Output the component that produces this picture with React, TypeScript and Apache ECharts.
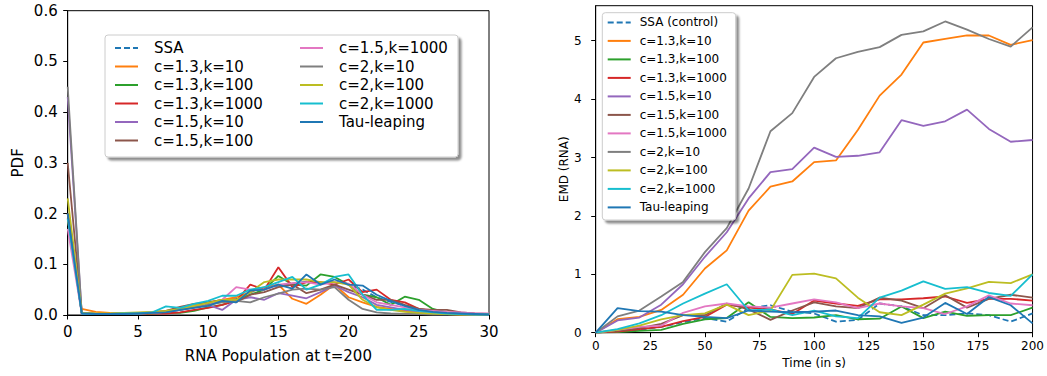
import React, { useEffect, useRef } from "react";
import * as echarts from "echarts";

const FONT = "DejaVu Sans";

// ---------- Left plot: PDF of RNA population at t=200 ----------
const rnaX = Array.from({ length: 31 }, (_, i) => i);
const pdfSSA = [0.20, 0.003, 0.002, 0.002, 0.003, 0.003, 0.004, 0.006, 0.01, 0.016, 0.022, 0.028, 0.032, 0.045, 0.052, 0.058, 0.062, 0.066, 0.062, 0.066, 0.06, 0.05, 0.035, 0.026, 0.018, 0.01, 0.007, 0.004, 0.002, 0.001, 0.001];
const pdfC13K10 = [0.19, 0.012, 0.006, 0.004, 0.003, 0.004, 0.005, 0.008, 0.012, 0.018, 0.025, 0.03, 0.035, 0.045, 0.055, 0.06, 0.032, 0.022, 0.04, 0.06, 0.035, 0.025, 0.016, 0.012, 0.008, 0.004, 0.003, 0.002, 0.001, 0.001, 0.001];
const pdfC13K100 = [0.2, 0.004, 0.002, 0.002, 0.003, 0.003, 0.003, 0.004, 0.004, 0.008, 0.015, 0.02, 0.03, 0.04, 0.05, 0.077, 0.06, 0.058, 0.08, 0.075, 0.06, 0.04, 0.035, 0.02, 0.036, 0.03, 0.012, 0.005, 0.003, 0.002, 0.001];
const pdfC13K1000 = [0.2, 0.004, 0.002, 0.002, 0.002, 0.003, 0.003, 0.003, 0.005, 0.01, 0.014, 0.02, 0.028, 0.06, 0.05, 0.094, 0.055, 0.065, 0.065, 0.06, 0.07, 0.045, 0.05, 0.03, 0.025, 0.012, 0.008, 0.004, 0.002, 0.001, 0.001];
const pdfC15K10 = [0.43, 0.003, 0.002, 0.002, 0.002, 0.003, 0.004, 0.006, 0.01, 0.015, 0.02, 0.01, 0.03, 0.035, 0.03, 0.043, 0.038, 0.033, 0.045, 0.058, 0.045, 0.035, 0.02, 0.015, 0.01, 0.006, 0.004, 0.003, 0.002, 0.001, 0.001];
const pdfC15K100 = [0.3, 0.003, 0.002, 0.002, 0.003, 0.003, 0.005, 0.008, 0.016, 0.022, 0.025, 0.03, 0.025, 0.04, 0.045, 0.055, 0.06, 0.043, 0.05, 0.06, 0.05, 0.04, 0.03, 0.03, 0.02, 0.012, 0.01, 0.01, 0.005, 0.003, 0.002];
const pdfC15K1000 = [0.17, 0.003, 0.002, 0.002, 0.003, 0.003, 0.004, 0.006, 0.01, 0.015, 0.02, 0.03, 0.055, 0.05, 0.05, 0.06, 0.063, 0.065, 0.06, 0.065, 0.062, 0.04, 0.025, 0.02, 0.015, 0.01, 0.008, 0.006, 0.005, 0.003, 0.003];
const pdfC2K10 = [0.45, 0.003, 0.002, 0.002, 0.002, 0.003, 0.004, 0.006, 0.01, 0.015, 0.02, 0.025, 0.028, 0.025, 0.035, 0.042, 0.05, 0.052, 0.05, 0.055, 0.03, 0.012, 0.005, 0.003, 0.002, 0.002, 0.001, 0.001, 0.001, 0.001, 0.001];
const pdfC2K100 = [0.23, 0.004, 0.003, 0.003, 0.004, 0.005, 0.006, 0.008, 0.012, 0.018, 0.024, 0.03, 0.03, 0.045, 0.065, 0.07, 0.07, 0.07, 0.065, 0.065, 0.06, 0.03, 0.015, 0.01, 0.006, 0.004, 0.003, 0.002, 0.001, 0.001, 0.001];
const pdfC2K1000 = [0.19, 0.003, 0.002, 0.002, 0.003, 0.003, 0.005, 0.017, 0.014, 0.022, 0.028, 0.038, 0.038, 0.05, 0.055, 0.065, 0.075, 0.05, 0.06, 0.075, 0.08, 0.04, 0.01, 0.01, 0.012, 0.008, 0.005, 0.003, 0.002, 0.001, 0.001];
const pdfTau = [0.2, 0.003, 0.002, 0.002, 0.002, 0.003, 0.004, 0.005, 0.01, 0.014, 0.018, 0.028, 0.025, 0.048, 0.05, 0.06, 0.052, 0.08, 0.06, 0.07, 0.06, 0.058, 0.04, 0.028, 0.018, 0.01, 0.006, 0.004, 0.003, 0.002, 0.001];

// ---------- Right plot: EMD over time ----------
const times = Array.from({ length: 21 }, (_, i) => i * 10);
const emdSSA = [0, 0.02, 0.05, 0.10, 0.18, 0.25, 0.19, 0.42, 0.47, 0.36, 0.33, 0.19, 0.22, 0.5, 0.45, 0.3, 0.3, 0.33, 0.3, 0.19, 0.33];
const emdC13K10 = [0, 0.23, 0.27, 0.39, 0.65, 1.1, 1.41, 2.09, 2.5, 2.59, 2.92, 2.95, 3.47, 4.06, 4.42, 4.97, 5.03, 5.09, 5.09, 4.93, 5.01];
const emdC13K100 = [0, 0.01, 0.03, 0.05, 0.15, 0.23, 0.25, 0.52, 0.27, 0.25, 0.26, 0.3, 0.23, 0.24, 0.45, 0.25, 0.36, 0.29, 0.3, 0.3, 0.43];
const emdC13K1000 = [0, 0.02, 0.06, 0.1, 0.2, 0.27, 0.48, 0.43, 0.4, 0.32, 0.55, 0.5, 0.46, 0.57, 0.57, 0.59, 0.62, 0.51, 0.58, 0.58, 0.55];
const emdC15K10 = [0, 0.21, 0.26, 0.48, 0.83, 1.3, 1.72, 2.3, 2.75, 2.8, 3.17, 3.01, 3.03, 3.09, 3.64, 3.54, 3.62, 3.82, 3.49, 3.27, 3.3];
const emdC15K100 = [0, 0.03, 0.08, 0.15, 0.3, 0.3, 0.5, 0.4, 0.22, 0.38, 0.52, 0.45, 0.42, 0.6, 0.55, 0.42, 0.64, 0.43, 0.58, 0.65, 0.6];
const emdC15K1000 = [0, 0.05, 0.1, 0.12, 0.34, 0.45, 0.5, 0.45, 0.43, 0.5, 0.57, 0.52, 0.42, 0.5, 0.45, 0.42, 0.32, 0.45, 0.64, 0.5, 0.47];
const emdC2K10 = [0, 0.28, 0.38, 0.62, 0.87, 1.38, 1.79, 2.47, 3.45, 3.76, 4.38, 4.7, 4.81, 4.89, 5.1, 5.16, 5.33, 5.19, 5.03, 4.9, 5.23];
const emdC2K100 = [0, 0.05, 0.12, 0.23, 0.3, 0.33, 0.48, 0.3, 0.38, 0.99, 1.01, 0.93, 0.6, 0.35, 0.3, 0.48, 0.67, 0.76, 0.87, 0.85, 1.0];
const emdC2K1000 = [0, 0.06, 0.16, 0.3, 0.5, 0.67, 0.83, 0.38, 0.4, 0.3, 0.38, 0.28, 0.25, 0.6, 0.72, 0.88, 0.75, 0.78, 0.68, 0.63, 1.0];
const emdTau = [0, 0.42, 0.37, 0.36, 0.3, 0.27, 0.25, 0.38, 0.36, 0.35, 0.36, 0.38, 0.3, 0.28, 0.17, 0.26, 0.51, 0.32, 0.61, 0.47, 0.16];

const NAMES = ["c=1.3,k=10", "c=1.3,k=100", "c=1.3,k=1000", "c=1.5,k=10", "c=1.5,k=100", "c=1.5,k=1000", "c=2,k=10", "c=2,k=100", "c=2,k=1000"];
const COLORS = ["#ff7f0e", "#2ca02c", "#d62728", "#9467bd", "#8c564b", "#e377c2", "#7f7f7f", "#bcbd22", "#17becf"];
const BLUE = "#1f77b4";

const leftData = [pdfC13K10, pdfC13K100, pdfC13K1000, pdfC15K10, pdfC15K100, pdfC15K1000, pdfC2K10, pdfC2K100, pdfC2K1000];
const rightData = [emdC13K10, emdC13K100, emdC13K1000, emdC15K10, emdC15K100, emdC15K1000, emdC2K10, emdC2K100, emdC2K1000];

function lineSeries(name: string, xs: number[], ys: number[], color: string, idx: number, dashed = false) {
  return {
    type: "line",
    name,
    xAxisIndex: idx,
    yAxisIndex: idx,
    data: xs.map((x, i) => [x, ys[i]]),
    showSymbol: false,
    symbol: "none",
    lineStyle: { color, width: 1.8, type: dashed ? [6, 3] : "solid" },
    itemStyle: { color },
    z: 2,
  };
}

export default function App() {
  const ref = useRef<HTMLDivElement>(null);
  useEffect(() => {
    if (!ref.current) return;
    const chart = echarts.init(ref.current, null, { renderer: "svg" });

    const axisCommon = (fs: number, margin: number) => ({
      axisLine: { show: true, onZero: false, lineStyle: { color: "#000", width: 1 } },
      axisTick: { show: true, inside: false, length: 4.5, lineStyle: { color: "#000", width: 1 } },
      axisLabel: { color: "#000", fontSize: fs, fontFamily: FONT, margin },
      splitLine: { show: false },
    });

    const series: any[] = [];
    series.push(lineSeries("SSA", rnaX, pdfSSA, BLUE, 0, true));
    NAMES.forEach((n, i) => series.push(lineSeries(n, rnaX, leftData[i], COLORS[i], 0)));
    series.push(lineSeries("Tau-leaping", rnaX, pdfTau, BLUE, 0));
    series.push(lineSeries("SSA (control)", times, emdSSA, BLUE, 1, true));
    NAMES.forEach((n, i) => series.push(lineSeries(n, times, rightData[i], COLORS[i], 1)));
    series.push(lineSeries("Tau-leaping", times, emdTau, BLUE, 1));

    const legendCommon = (fs: number) => ({
      orient: "vertical",
      itemWidth: 23,
      itemHeight: 10,
      itemGap: 0.5,
      selectedMode: false,
      padding: 0,
      itemStyle: { opacity: 0, borderWidth: 0 },
      lineStyle: { width: 2 },
      textStyle: { fontSize: fs, fontFamily: FONT, color: "#000", lineHeight: 18, padding: [0, 0, 0, fs === 15 ? 11 : 4] },
      z: 10,
    });

    const option: any = {
      animation: false,
      backgroundColor: "#fff",
      grid: [
        { left: 67.7, top: 10.7, width: 421.3, height: 304.3, show: true, borderColor: "#000", borderWidth: 1, backgroundColor: "transparent" },
        { left: 595.7, top: 5.7, width: 437.6, height: 327, show: true, borderColor: "#000", borderWidth: 1, backgroundColor: "transparent" },
      ],
      xAxis: [
        {
          type: "value", gridIndex: 0, min: 0, max: 30, interval: 5,
          name: "RNA Population at t=200", nameLocation: "middle", nameGap: 33,
          nameTextStyle: { fontSize: 15, fontFamily: FONT, color: "#000" },
          ...axisCommon(15, 9),
        },
        {
          type: "value", gridIndex: 1, min: 0, max: 200, interval: 25,
          name: "Time (in s)", nameLocation: "middle", nameGap: 24,
          nameTextStyle: { fontSize: 12, fontFamily: FONT, color: "#000" },
          ...axisCommon(12, 7),
        },
      ],
      yAxis: [
        {
          type: "value", gridIndex: 0, min: 0, max: 0.6, interval: 0.1,
          name: "PDF", nameLocation: "middle", nameGap: 42, nameRotate: 90,
          nameTextStyle: { fontSize: 15, fontFamily: FONT, color: "#000" },
          ...axisCommon(15, 10),
          axisLabel: { color: "#000", fontSize: 15, fontFamily: FONT, margin: 10, formatter: (v: number) => v.toFixed(1) },
        },
        {
          type: "value", gridIndex: 1, min: 0, max: 5.6, interval: 1,
          name: "EMD (RNA)", nameLocation: "middle", nameGap: 23, nameRotate: 90,
          nameTextStyle: { fontSize: 12, fontFamily: FONT, color: "#000" },
          ...axisCommon(12, 14),
          axisLabel: { color: "#000", fontSize: 12, fontFamily: FONT, margin: 14, showMaxLabel: false, formatter: (v: number) => (Number.isInteger(v) ? String(v) : "") },
        },
      ],
      legend: [
        { ...legendCommon(15), left: 114, top: 39, data: ["SSA", NAMES[0], NAMES[1], NAMES[2], NAMES[3], NAMES[4]] },
        { ...legendCommon(15), left: 299, top: 39, data: [NAMES[5], NAMES[6], NAMES[7], NAMES[8], "Tau-leaping"] },
        { ...legendCommon(12), left: 606.7, top: 13.4, data: ["SSA (control)", ...NAMES, "Tau-leaping"] },
      ],
      graphic: [
        {
          type: "rect", z: 5, shape: { x: 105, y: 35, width: 353, height: 122, r: 3 },
          style: { fill: "#fff", stroke: "#cccccc", lineWidth: 1, shadowColor: "rgba(0,0,0,0.45)", shadowOffsetX: 3, shadowOffsetY: 3, shadowBlur: 2 },
        },
        {
          type: "rect", z: 5, shape: { x: 602.3, y: 12.7, width: 133.4, height: 207.3, r: 3 },
          style: { fill: "#fff", stroke: "#cccccc", lineWidth: 1, shadowColor: "rgba(0,0,0,0.45)", shadowOffsetX: 3, shadowOffsetY: 3, shadowBlur: 2 },
        },
      ],
      series,
    };
    chart.setOption(option);
    return () => chart.dispose();
  }, []);
  return <div ref={ref} style={{ position: "absolute", left: 0, top: 0, width: 1047, height: 376 }} />;
}
